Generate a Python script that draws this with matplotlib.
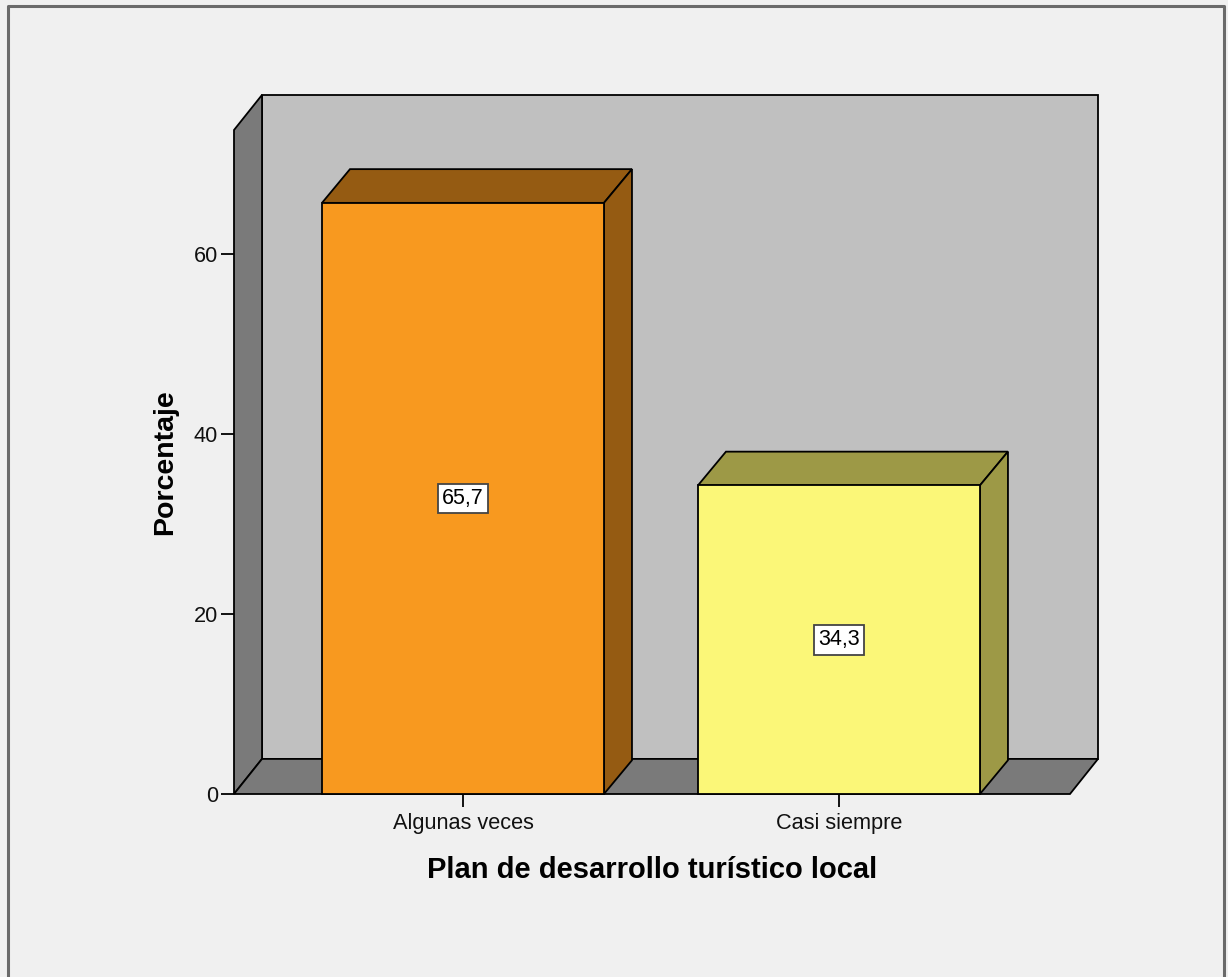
import numpy as np
import matplotlib.pyplot as plt
from matplotlib.patches import Polygon, Rectangle

categories = ['Algunas veces', 'Casi siempre']
percentages = [65.7, 34.3]
value_labels = ['65,7', '34,3']
y_ticks = [0, 20, 40, 60]

front_colors = ['#F8991F', '#FBF778']
shade_colors = ['#955B12', '#9D9946']

plt.rcParams['font.family'] = ['Liberation Sans', 'DejaVu Sans']

W, H = 1228, 977
fig = plt.figure(figsize=(W / 100, H / 100), dpi=100)
fig.patch.set_facecolor('#F0F0F0')

# frame around the chart (open at the bottom)
fig.add_artist(plt.Line2D([8 / W, 8 / W, 1224 / W, 1224 / W],
                          [0, 1 - 6 / H, 1 - 6 / H, 0],
                          transform=fig.transFigure, color='#6A6A6A', lw=2.2))

ax = fig.add_axes([234 / W, (H - 794) / H, (1098 - 234) / W, (794 - 130) / H])
ax.set_facecolor('none')

x = np.arange(len(categories))
bar_w = 0.75
dx, dy = 0.0745, 3.9
ymax = 73.8
wall_top = ymax + dy
xl, xr = -0.609, 1.689
ax.set_xlim(xl, xr)
ax.set_ylim(0, ymax)

edge = dict(edgecolor='black', linewidth=1.3, clip_on=False)
# walls
ax.add_patch(Polygon([(xl + dx, dy), (xr, dy), (xr, wall_top), (xl + dx, wall_top)],
                     facecolor='#C0C0C0', zorder=1, **edge))
ax.add_patch(Polygon([(xl, 0), (xl + dx, dy), (xl + dx, wall_top), (xl, ymax)],
                     facecolor='#7A7A7A', zorder=1, **edge))
ax.add_patch(Polygon([(xl, 0), (xr - dx, 0), (xr, dy), (xl + dx, dy)],
                     facecolor='#7A7A7A', zorder=1, **edge))

# 3D bars
bdy = 3.75
for xi, v, fc, sc, lab in zip(x, percentages, front_colors, shade_colors, value_labels):
    l, r = xi - bar_w / 2, xi + bar_w / 2
    ax.add_patch(Polygon([(l, v), (r, v), (r + dx, v + bdy), (l + dx, v + bdy)],
                         facecolor=sc, zorder=2, **edge))
    ax.add_patch(Polygon([(r, 0), (r + dx, bdy), (r + dx, v + bdy), (r, v)],
                         facecolor=sc, zorder=2, **edge))
    ax.add_patch(Rectangle((l, 0), bar_w, v, facecolor=fc, zorder=3, **edge))
    ax.text(xi, v / 2, lab, ha='center', va='center', fontsize=15.5, zorder=4,
            bbox=dict(boxstyle='square,pad=0.2', facecolor='white',
                      edgecolor='#444444', linewidth=1.3))

for s in ['top', 'right', 'bottom', 'left']:
    ax.spines[s].set_visible(False)

ax.set_yticks(y_ticks)
ax.set_yticklabels([str(t) for t in y_ticks])
ax.set_xticks(x)
ax.set_xticklabels(categories)
ax.tick_params(axis='both', length=9.5, width=1.3, color='black',
               labelsize=15.7, labelcolor='#111111', pad=2)
ax.tick_params(axis='x', pad=4)

ax.set_ylabel('Porcentaje', fontsize=20.5, fontweight='bold', labelpad=11)
ax.set_xlabel('Plan de desarrollo turístico local', fontsize=21,
              fontweight='bold', labelpad=16)
ax.xaxis.label.set_x(0.4838)

fig.savefig('out.png', dpi=100, facecolor=fig.get_facecolor())
